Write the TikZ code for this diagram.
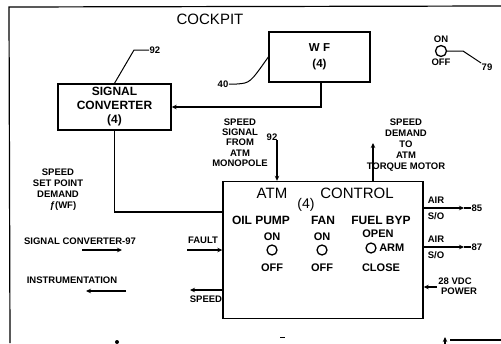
\documentclass[tikz,border=0pt]{standalone}
\usepackage{fontspec}
\setmainfont{Liberation Sans}
\usepackage{tikz}
\usetikzlibrary{arrows.meta,positioning,calc}
\definecolor{Ink}{HTML}{000000}
\definecolor{Paper}{HTML}{FFFFFF}

\begin{document}
\begin{tikzpicture}[x=1pt,y=-1pt,
    line width=1.2pt,
    box/.style={draw=Ink,line width=1.4pt,align=center,inner sep=0pt},
    lbl/.style={font=\fontsize{9.5}{10.3}\selectfont\bfseries,align=center,inner sep=0pt},
    boxtxt/.style={font=\fontsize{12}{14}\selectfont\bfseries,align=center,inner sep=0pt},
    big/.style={font=\fontsize{15}{17}\selectfont,inner sep=0pt},
    swtxt/.style={font=\fontsize{12}{14}\selectfont\bfseries,inner sep=0pt},
    swlbl/.style={font=\fontsize{11}{12}\selectfont\bfseries,inner sep=0pt},
    knob/.style={draw=Ink,circle,line width=1.3pt,minimum size=11pt,inner sep=0pt},
    arr/.style={-{Stealth[length=5pt,width=4.5pt]}}]
        \useasboundingbox[fill=Paper] (0,0) rectangle (501,343);
        % cockpit frame
        \draw (10,343) -- (9,7) -- (501,6);
        \node[big] (cockpit) at (210,19) {COCKPIT};
        % blocks
        \node[box,minimum width=113pt,minimum height=46pt] (sigconv) at (114.5,107) {};
        \node[boxtxt] (sigconvtxt) at (sigconv) {SIGNAL\\CONVERTER\\(4)};
        \node[box,minimum width=101pt,minimum height=50pt] (wf) at (319.5,57) {};
        \node[boxtxt,font=\fontsize{11.5}{16}\selectfont\bfseries] (wftxt) at (wf) {W F\\(4)};
        \node[box,minimum width=200pt,minimum height=137pt] (atm) at (323,250) {};
        % reference numbers
        \node[lbl] (n92a) at (155,50) {92};
        \draw[line width=1pt] (n92a.west) -- (134,50) -- (sigconv.north);
        \node[lbl] (n40) at (223,84) {40};
        \draw[line width=1pt] (n40.east) -- ++(8,0) .. controls (250,83) .. (wf.west);
        % on/off switch
        \node[knob] (sw) at (441,51) {};
        \node[lbl,above=2pt of sw] (swon) {ON};
        \node[lbl,below=1pt of sw] (swoff) {OFF};
        \node[lbl] (n79) at (487,67) {79};
        \draw[line width=1pt] (sw.east) -- (463,51) -- (n79.north west);
        % wf to signal converter to atm control
        \draw[arr] (wf.south -| 321,0) |- (sigconv.east);
        \draw (sigconv.south) |- (atm.west |- 0,212);
        % inputs from above
        \node[lbl] (ssig) at (240,142.5) {SPEED\\SIGNAL\\FROM\\ATM\\MONOPOLE};
        \node[lbl] (n92b) at (272,137) {92};
        \coordinate (ssigfrom) at (277,140);
        \draw[arr] (ssigfrom) -- (atm.north -| 277,0);
        \node[lbl,font=\fontsize{9.5}{11}\selectfont\bfseries] (sdem) at (406,145.5) {SPEED\\DEMAND\\TO\\ATM\\TORQUE MOTOR};
        \coordinate (sdemto) at (373,143);
        \draw[arr] (atm.north -| 373,0) -- (sdemto);
        % left side signals
        \node[lbl,font=\fontsize{9.5}{11}\selectfont\bfseries] (setpt) at (58,190) {SPEED\\SET POINT\\DEMAND\\\hspace*{10pt}ƒ(WF)};
        \node[lbl] (sc97) at (80,241) {SIGNAL CONVERTER-97};
        \draw[arr] (82,250) -- (122,250);
        \node[lbl] (instr) at (72,280) {INSTRUMENTATION};
        \draw[arr] (126,291) -- (86,291);
        \node[lbl] (fault) at (203,240) {FAULT};
        \coordinate (faultfrom) at (187,250);
        \draw[arr] (faultfrom) -- (atm.west |- 0,250);
        \node[lbl] (spdout) at (206,299) {SPEED};
        \coordinate (spdto) at (190,290);
        \draw[arr] (atm.west |- 0,290) -- (spdto);
        % right side signals
        \foreach \y/\n in {208/85,247/87}{
          \node[lbl,font=\fontsize{9.5}{16}\selectfont\bfseries] (air\n) at (436,\y) {AIR\\S/O};
          \coordinate (airend\n) at (464,\y);
          \draw[arr] (atm.east |- 0,\y) -- (airend\n);
          \node[lbl,anchor=west] (num\n) at (471,\y) {\n};
          \draw (airend\n) -- (num\n.west);
        }
        \node[lbl,font=\fontsize{9.5}{10}\selectfont\bfseries] (vdc) at (455,286) {28 VDC\\\hspace*{8pt}POWER};
        \coordinate (vdcfrom) at (437,287);
        \draw[arr] (vdcfrom) -- (atm.east |- 0,287);
        % inside atm control
        \node[big] (atmt) at (272,193) {ATM};
        \node[big] (ctrl) at (357,193) {CONTROL};
        \node[big,font=\fontsize{14}{16}\selectfont] (atm4) at (306,205) {(4)};
        \foreach \x/\t/\n in {261/OIL PUMP/oil,323/FAN/fan,381/FUEL BYP/fuel}
          \node[swtxt] (h\n) at (\x,220) {\t};
        \foreach \x/\n in {272/oil,322/fan}{
          \node[swlbl] (on\n) at (\x,237) {ON};
          \node[knob,minimum size=10pt] (k\n) at (\x,250) {};
          \node[swlbl] (off\n) at (\x,268) {OFF};
        }
        \node[swlbl] (openfuel) at (378,234) {OPEN};
        \node[knob,minimum size=10pt] (kfuel) at (371,248) {};
        \node[swlbl,right=2pt of kfuel] (armfuel) {ARM};
        \node[swlbl] (closefuel) at (381,268) {CLOSE};
        % cut-off marks at the bottom edge
        \fill (117,342) circle (2pt);
        \draw[line width=1pt] (280,337) -- (285,337);
        \draw[arr] (445,346) -- (445,337);
        \draw (450,340) -- (501,340);
\end{tikzpicture}
\end{document}
